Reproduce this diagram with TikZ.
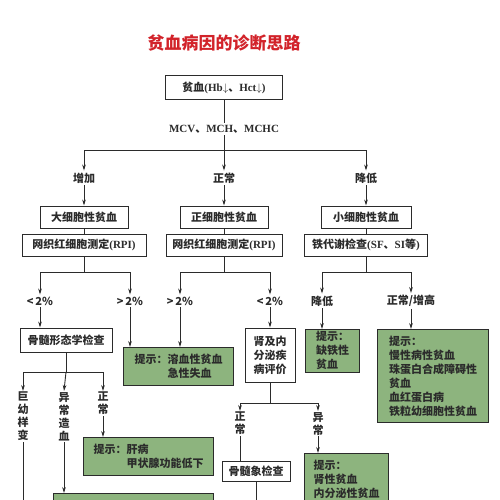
\documentclass[tikz,border=0pt]{standalone}
\usepackage{fontspec}
\setmainfont{Noto Sans CJK SC}
\newfontfamily\lat{Liberation Serif}
\usetikzlibrary{arrows.meta, positioning, calc}
\definecolor{dxInk}{HTML}{2B2B2B}
\definecolor{dxGreen}{HTML}{8DB47E}
\definecolor{dxRed}{HTML}{D2232A}
\newcommand{\en}[1]{{\lat\bfseries #1}}

\begin{document}
\begin{tikzpicture}[
    x=1pt, y=-1pt,
    box/.style={draw=dxInk, line width=1pt, fill=white, inner sep=2pt, text=dxInk,
                font=\fontsize{11}{14}\selectfont\bfseries, minimum height=22pt},
    hint/.style={box, fill=dxGreen, align=left, anchor=north west},
    lab/.style={inner sep=2pt, text=dxInk, font=\fontsize{11}{14}\selectfont\bfseries},
    vlab/.style={lab, inner sep=1pt, align=center, anchor=north,
                 font=\fontsize{11}{13}\selectfont\bfseries},
    fw/.style={-{Stealth[length=6pt, width=3.6pt]}, line width=0.9pt, draw=dxInk},
    ln/.style={line width=0.9pt, draw=dxInk},
  ]
  \useasboundingbox (0,0) rectangle (500,500);
  \clip (0,0) rectangle (500,500);
  \fill[white] (0,0) rectangle (500,500);

  \node[font=\fontsize{17}{20}\selectfont\bfseries, text=dxRed] (title) at (224,43) {贫血病因的诊断思路};

  \node[box, minimum width=117pt, minimum height=24pt] (anemia) at (224,88)
    {贫血\en{(Hb}$\downarrow$、\en{Hct}$\downarrow$\en{)}};
  \node[lab] (mcv) at (224,129) {\en{MCV}、\en{MCH}、\en{MCHC}};
  \draw[ln] (anemia.south) -- (mcv.north);

  % MCV split
  \coordinate (br0) at (224,150);
  \node[lab] (lInc) at (84,178)  {增加};
  \node[lab] (lNor) at (224,178) {正常};
  \node[lab] (lDec) at (366,178) {降低};
  \draw[ln] (mcv.south) -- (br0);
  \draw[fw] (br0) -| (lInc.north);
  \draw[fw] (br0) -- (lNor.north);
  \draw[fw] (br0) -| (lDec.north);

  \node[box, minimum width=88pt]  (macro) at (84,217)  {大细胞性贫血};
  \node[box, minimum width=88pt]  (normo) at (224,217) {正细胞性贫血};
  \node[box, minimum width=90pt]  (micro) at (366,217) {小细胞性贫血};
  \draw[fw] (lInc.south) -- (macro.north);
  \draw[fw] (lNor.south) -- (normo.north);
  \draw[fw] (lDec.south) -- (micro.north);

  \node[box, minimum width=124pt] (rpiA) at (84,245)  {网织红细胞测定\en{(RPI)}};
  \node[box, minimum width=116pt] (rpiB) at (224,245) {网织红细胞测定\en{(RPI)}};
  \node[box, minimum width=123pt] (iron) at (366,245) {铁代谢检查\en{(SF}、\en{SI}等\en{)}};
  \draw[ln] (macro.south) -- (rpiA.north);
  \draw[ln] (normo.south) -- (rpiB.north);
  \draw[ln] (micro.south) -- (iron.north);

  \coordinate (brA) at (84,272);
  \coordinate (brB) at (224,272);
  \coordinate (brC) at (366,272);
  \node[lab] (pLowA)  at (40,301)  {<\,2\%};
  \node[lab] (pHighA) at (130,301) {>\,2\%};
  \node[lab] (pHighB) at (180,301) {>\,2\%};
  \node[lab] (pLowB)  at (270,301) {<\,2\%};
  \node[lab] (fLow)   at (322,301) {降低};
  \node[lab] (fHigh)  at (411,301) {正常/增高};
  \draw[ln] (rpiA.south) -- (brA);
  \draw[ln] (rpiB.south) -- (brB);
  \draw[ln] (iron.south) -- (brC);
  \draw[fw] (brA) -| (pLowA.north);
  \draw[fw] (brA) -| (pHighA.north);
  \draw[fw] (brB) -| (pHighB.north);
  \draw[fw] (brB) -| (pLowB.north);
  \draw[fw] (brC) -| (fLow.north);
  \draw[fw] (brC) -| (fHigh.north);

  \node[box, minimum width=92pt, minimum height=24pt] (marrow) at (66,340) {骨髓形态学检查};
  \node[hint, minimum width=110pt, minimum height=38pt] (hemo) at (123,347)
    {提示：溶血性贫血\\\phantom{提示：}急性失血};
  \node[box, minimum width=50pt, minimum height=54pt, align=center] (endo) at (270,355)
    {肾及内\\分泌疾\\病评价};
  \node[hint, minimum width=54pt, minimum height=42pt] (ironDef) at (305,329)
    {提示：\\缺铁性\\贫血};
  \node[hint, minimum width=111pt, minimum height=93pt] (chronic) at (377,329)
    {提示：\\慢性病性贫血\\珠蛋白合成障碍性\\贫血\\血红蛋白病\\铁粒幼细胞性贫血};
  \draw[fw] (pLowA.south) -- (pLowA.south |- marrow.north);
  \draw[fw] (pHighA.south) -- (pHighA.south |- hemo.north);
  \draw[fw] (pHighB.south) -- (pHighB.south |- hemo.north);
  \draw[fw] (pLowB.south) -- (endo.north);
  \draw[fw] (fLow.south) -- (fLow.south |- ironDef.north);
  \draw[fw] (fHigh.south) -- (fHigh.south |- chronic.north);

  % bone marrow morphology
  \coordinate (brM) at (66,372);
  \node[vlab] (vMeg) at (23,391)  {巨\\幼\\样\\变};
  \node[vlab] (vDys) at (64,391)  {异\\常\\造\\血};
  \node[vlab] (vNm)  at (103,391) {正\\常};
  \draw[ln] (marrow.south) -- (brM);
  \draw[fw] (brM) -| (vMeg.north);
  \draw[fw] (brM) -- (vDys.north);
  \draw[fw] (brM) -| (vNm.north);
  \node[hint, minimum width=130pt, minimum height=38pt] (liver) at (83,437)
    {提示：肝病\\\phantom{提示：}甲状腺功能低下};
  \node[hint, minimum width=160pt, minimum height=40pt] (dysEnd) at (53,493) {};
  \coordinate (megEnd) at (23,510);
  \draw[fw] (vNm.south) -- (vNm.south |- liver.north);
  \draw[fw] (vDys.south) -- (vDys.south |- dysEnd.north);
  \draw[ln] (vMeg.south) -- (megEnd);

  % renal / endocrine evaluation
  \coordinate (brR) at (270,403);
  \node[vlab] (vRN) at (240,411) {正\\常};
  \node[vlab] (vRA) at (318,411) {异\\常};
  \draw[ln] (endo.south) -- (brR);
  \draw[fw] (brR) -| (vRN.north);
  \draw[fw] (brR) -| (vRA.north);
  \node[box, minimum width=68pt, minimum height=20pt] (bmExam) at (256,471) {骨髓象检查};
  \node[hint, minimum width=84pt, minimum height=52pt] (renal) at (304,453)
    {提示：\\肾性贫血\\内分泌性贫血};
  \coordinate (bmEnd) at (256,510);
  \draw[ln] (vRN.south) -- (vRN.south |- bmExam.north);
  \draw[fw] (vRA.south) -- (vRA.south |- renal.north);
  \draw[ln] (bmExam.south) -- (bmEnd);
\end{tikzpicture}
\end{document}
